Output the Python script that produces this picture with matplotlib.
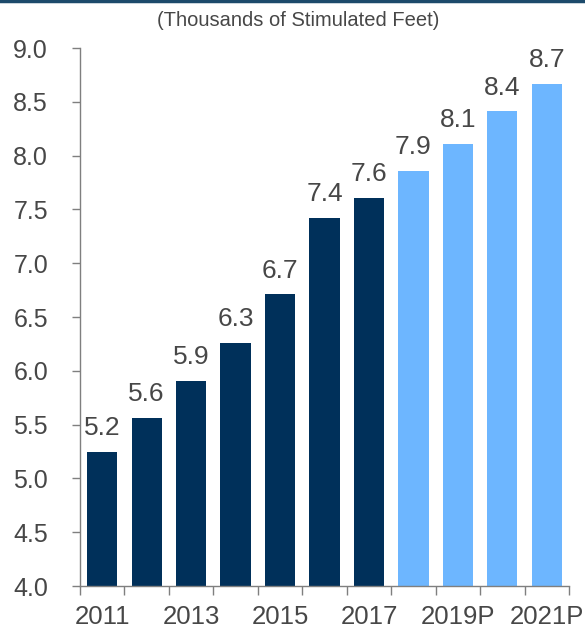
import matplotlib.pyplot as plt
from matplotlib.lines import Line2D

plt.rcParams['font.family'] = ['Liberation Sans', 'DejaVu Sans']

# Stimulated lateral length per well, actual and projected
years = ['2011', '2012', '2013', '2014', '2015', '2016', '2017',
         '2018P', '2019P', '2020P', '2021P']
feet = [5.25, 5.56, 5.91, 6.26, 6.71, 7.42, 7.61, 7.86, 8.11, 8.41, 8.67]
projected = [False] * 7 + [True] * 4

dark_blue = '#00305a'
light_blue = '#6db6ff'
text_gray = '#474747'
axis_gray = '#7f7f7f'

fig = plt.figure(figsize=(5.85, 6.3), dpi=100)
ax = fig.add_axes([0.1368, 0.0698, 0.8358, 0.854])

x = list(range(len(years)))
colors = [light_blue if p else dark_blue for p in projected]
ax.bar(x, feet, width=0.68, color=colors)

for xi, v in zip(x, feet):
    ax.annotate(f'{v:.1f}', (xi, v), xytext=(0, 12), textcoords='offset points',
                ha='center', va='baseline', fontsize=19, color=text_gray)

ax.set_ylim(4.0, 9.0)
ax.set_xlim(-0.5, len(years) - 0.5)
ax.set_yticks([4.0 + 0.5 * i for i in range(11)])
ax.set_yticklabels([f'{4.0 + 0.5 * i:.1f}' for i in range(11)])

# Tick marks sit on category boundaries, labels on every other bar
ax.set_xticks([i - 0.5 for i in range(len(years) + 1)])
ax.set_xticklabels([])
ax.set_xticks(x[::2], minor=True)
ax.set_xticklabels(years[::2], minor=True)
ax.tick_params(axis='x', which='minor', length=0, pad=14,
               labelsize=18.5, labelcolor=text_gray)
ax.tick_params(axis='x', which='major', direction='out', length=6.5,
               width=1, color=axis_gray)
ax.tick_params(axis='y', direction='out', length=6, width=1,
               color=axis_gray, labelsize=18, labelcolor=text_gray, pad=17)

for side in ['top', 'right']:
    ax.spines[side].set_visible(False)
for side in ['left', 'bottom']:
    ax.spines[side].set_color(axis_gray)
    ax.spines[side].set_linewidth(1)

fig.text(0.51, 0.967, '(Thousands of Stimulated Feet)', ha='center',
         va='center', fontsize=14.5, color=text_gray)
fig.add_artist(Line2D([0, 1], [0.998, 0.998], transform=fig.transFigure,
                      color='#1c4a6b', linewidth=2.5))

fig.savefig('out.png', dpi=100)
